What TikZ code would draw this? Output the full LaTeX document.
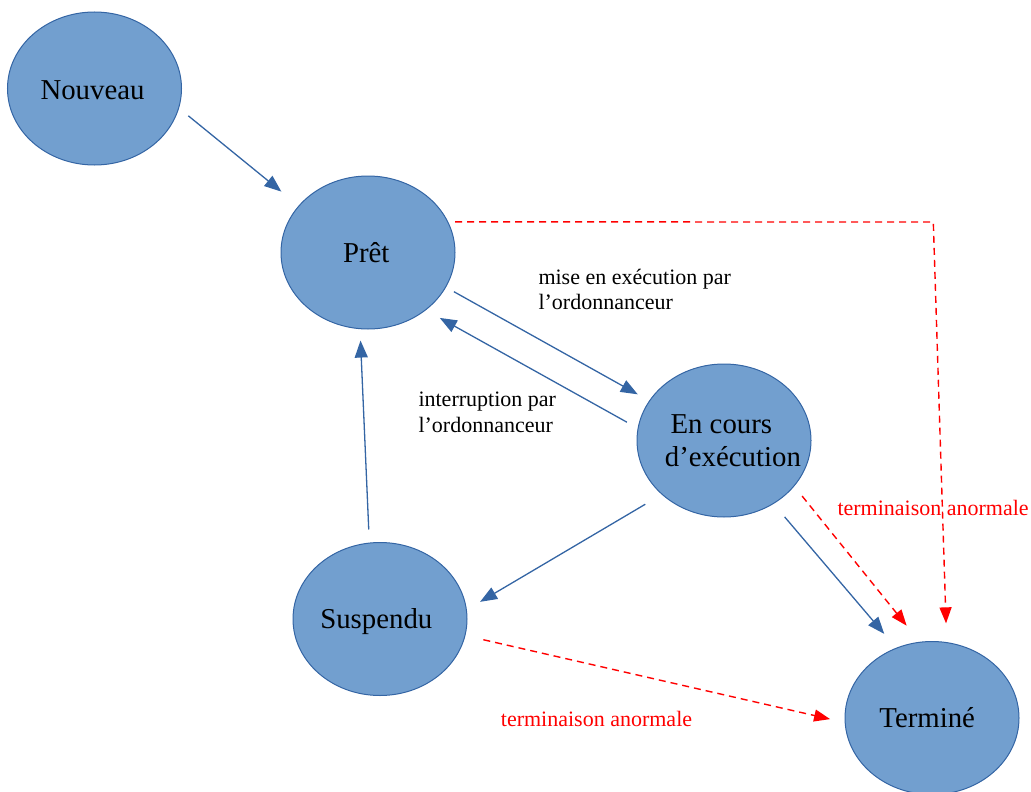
\documentclass[tikz,border=0pt]{standalone}
\usepackage{fontspec}
\setmainfont{Liberation Serif}
\usetikzlibrary{arrows.meta,shapes.geometric}
\definecolor{fillb}{HTML}{729FCF}
\definecolor{lineb}{HTML}{3465A4}
\definecolor{redd}{HTML}{FF0000}
\begin{document}
\begin{tikzpicture}[x=1pt,y=-1pt,
 state/.style={ellipse, draw=lineb, fill=fillb, line width=1pt, minimum width=174pt, minimum height=153pt, inner sep=0pt, outer sep=0pt},
 big/.style={font=\fontsize{28.8}{33}\selectfont, anchor=base, inner sep=0pt, text=black},
 small/.style={font=\fontsize{22}{25}\selectfont, anchor=base west, inner sep=0pt, text=black},
 flow/.style={draw=lineb, line width=1.3pt, -{Triangle[length=17pt,width=13pt]}},
 abn/.style={draw=redd, line width=1.4pt, dash pattern=on 7pt off 5pt, -{Triangle[length=16pt,width=12pt]}}]
\useasboundingbox (0,0) rectangle (1031,792);

\node[state] (nouveau) at (94.5,88.5) {};
\node[state] (pret) at (368,252.5) {};
\node[state] (encours) at (724,440.5) {};
\node[state] (suspendu) at (380,619) {};
\node[state] (termine) at (932,718) {};

\node[big] (tnouveau) at (92.5,99.3) {Nouveau};
\node[big] (tpret) at (366.2,262.7) {Prêt};
\node[big] (tenc1) at (721.3,433.3) {En cours};
\node[big] (tenc2) at (732.9,466.7) {d’exécution};
\node[big] (tsusp) at (376.3,628.3) {Suspendu};
\node[big] (tterm) at (927.2,727.3) {Terminé};

\node[small] (lmise1) at (538.3,284.3) {mise en exécution par};
\node[small] (lmise2) at (538.3,309.3) {l’ordonnanceur};
\node[small] (lint1) at (418.3,406.7) {interruption par};
\node[small] (lint2) at (418.3,432.3) {l’ordonnanceur};
\node[small, text=redd] (lab1) at (837.3,515) {terminaison anormale};
\node[small, text=redd] (lab2) at (500.7,726) {terminaison anormale};

\draw[flow, shorten <=12.5pt, shorten >=22.7pt] (nouveau.-13.9) -- (pret.146.3);
\draw[flow, shorten <=9.5pt, shorten >=13.5pt] (pret.-24.8) -- (encours.152.6);
\draw[flow, shorten <=12.8pt, shorten >=16.4pt] (encours.172.7) -- (pret.-45.65);
\draw[flow, shorten <=13.6pt, shorten >=11.9pt] (suspendu.98) -- (pret.-96.4);
\draw[flow, shorten <=19.6pt, shorten >=15.9pt] (encours.-139.25) -- (suspendu.6.1);
\draw[flow, shorten <=17.5pt, shorten >=18.8pt] (encours.-52.6) -- (termine.117.2);
\draw[abn, shorten <=13pt, shorten >=21.3pt] (encours.-33.6) -- (termine.99.45);
\coordinate (coin) at (933.3,222);
\draw[abn, shorten <=7.4pt, shorten >=19.25pt] (pret.21.15) -- (coin) -- (termine.79.3);
\draw[abn, shorten <=18.9pt, shorten >=15.45pt] (suspendu.-11.26) -- (termine.-177.96);
\end{tikzpicture}
\end{document}
